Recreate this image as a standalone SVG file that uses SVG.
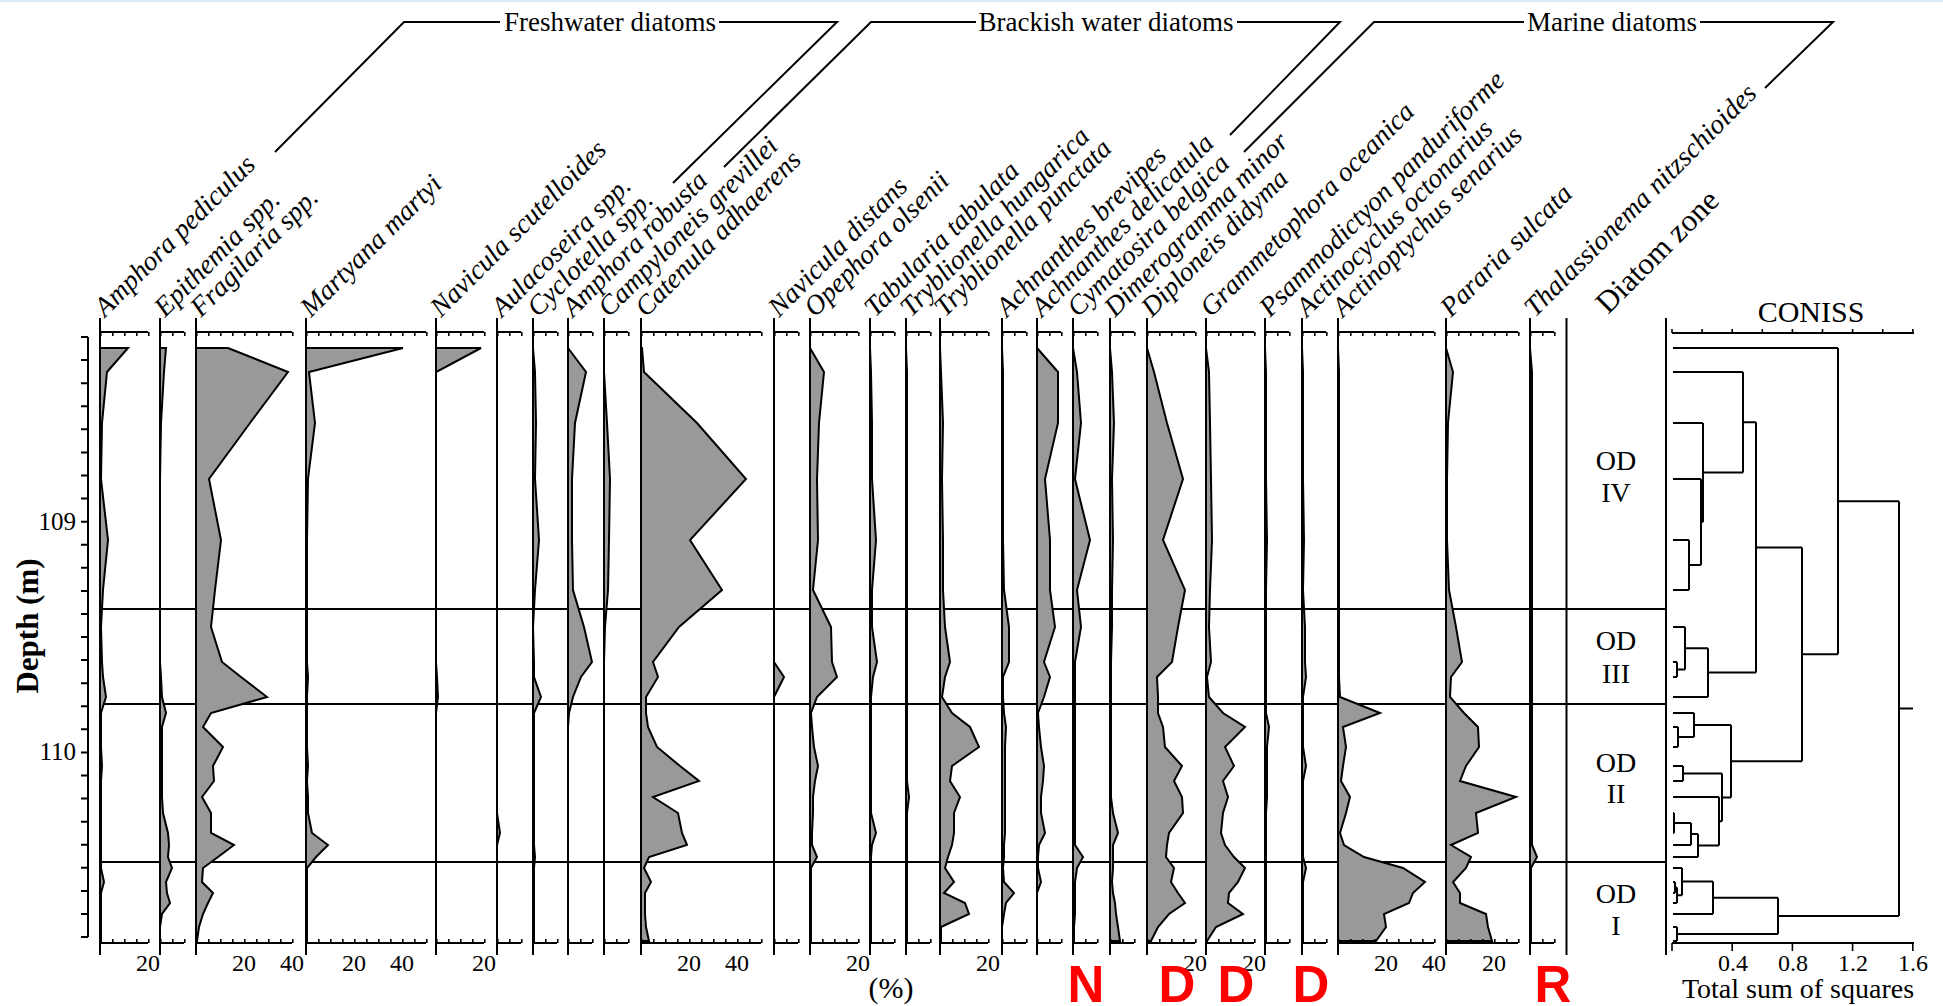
<svg xmlns="http://www.w3.org/2000/svg" width="1943" height="1006" viewBox="0 0 1943 1006">
<style>
.ln{stroke:#000;stroke-width:2;fill:none}
.pf{fill:#999;stroke:#000;stroke-width:2;stroke-linejoin:miter}
.tk{stroke:#000;stroke-width:4;stroke-dasharray:1.6 10.4;fill:none}
.sp{font-family:"Liberation Serif","Times New Roman",serif;font-style:italic;font-size:27.5px;fill:#000}
.hd{font-family:"Liberation Serif","Times New Roman",serif;font-size:27px;fill:#000;text-anchor:middle}
.nm{font-family:"Liberation Serif","Times New Roman",serif;font-size:24px;fill:#000;text-anchor:middle}
.zn{font-family:"Liberation Serif","Times New Roman",serif;font-size:28px;fill:#000;text-anchor:middle}
.red{font-family:"Liberation Sans",Arial,sans-serif;font-weight:bold;font-size:51px;fill:#f00;text-anchor:middle}
</style>
<rect x="0" y="0" width="1943" height="1006" fill="#fff"/>
<rect x="0" y="0" width="1943" height="2" fill="#dcecf6"/>

<g id="headers">
<polyline class="ln" points="275,152 404,22 500,22"/>
<text class="hd" x="610" y="31">Freshwater diatoms</text>
<polyline class="ln" points="719,22 837,22 673,183"/>
<polyline class="ln" points="724,167 871,22 976,22"/>
<text class="hd" x="1106" y="31">Brackish water diatoms</text>
<polyline class="ln" points="1237,22 1340,22 1230,135"/>
<polyline class="ln" points="1244,152 1374,22 1524,22"/>
<text class="hd" x="1612" y="31">Marine diatoms</text>
<polyline class="ln" points="1700,22 1833,22 1765,88"/>
</g>

<g id="labels">
<text class="sp" transform="translate(105,318) rotate(-45)">Amphora pediculus</text>
<text class="sp" transform="translate(165,318) rotate(-45)">Epithemia spp.</text>
<text class="sp" transform="translate(201,318) rotate(-45)">Fragilaria spp.</text>
<text class="sp" transform="translate(311,318) rotate(-45)">Martyana martyi</text>
<text class="sp" transform="translate(441,318) rotate(-45)">Navicula scutelloides</text>
<text class="sp" transform="translate(502,318) rotate(-45)">Aulacoseira spp.</text>
<text class="sp" transform="translate(538,318) rotate(-45)">Cyclotella spp.</text>
<text class="sp" transform="translate(573,318) rotate(-45)">Amphora robusta</text>
<text class="sp" transform="translate(609,318) rotate(-45)">Campyloneis grevillei</text>
<text class="sp" transform="translate(646,318) rotate(-45)">Catenula adhaerens</text>
<text class="sp" transform="translate(779,318) rotate(-45)">Navicula distans</text>
<text class="sp" transform="translate(815,318) rotate(-45)">Opephora olsenii</text>
<text class="sp" transform="translate(875,318) rotate(-45)">Tabularia tabulata</text>
<text class="sp" transform="translate(911,318) rotate(-45)">Tryblionella hungarica</text>
<text class="sp" transform="translate(945,318) rotate(-45)">Tryblionella punctata</text>
<text class="sp" transform="translate(1007,318) rotate(-45)">Achnanthes brevipes</text>
<text class="sp" transform="translate(1042,318) rotate(-45)">Achnanthes delicatula</text>
<text class="sp" transform="translate(1078,318) rotate(-45)">Cymatosira belgica</text>
<text class="sp" transform="translate(1115,318) rotate(-45)">Dimerogramma minor</text>
<text class="sp" transform="translate(1152,318) rotate(-45)">Diploneis didyma</text>
<text class="sp" transform="translate(1211,318) rotate(-45)">Grammetophora oceanica</text>
<text class="sp" transform="translate(1270,318) rotate(-45)">Psammodictyon panduriforme</text>
<text class="sp" transform="translate(1307,318) rotate(-45)">Actinocyclus octonarius</text>
<text class="sp" transform="translate(1343,318) rotate(-45)">Actinoptychus senarius</text>
<text class="sp" transform="translate(1451,318) rotate(-45)">Pararia sulcata</text>
<text class="sp" transform="translate(1535,318) rotate(-45)">Thalassionema nitzschioides</text>
<text transform="translate(1608,315) rotate(-45)" font-family="Liberation Serif, Times New Roman, serif" font-size="31">Diatom zone</text>
<text x="1811" y="322" font-family="Liberation Serif, Times New Roman, serif" font-size="30" text-anchor="middle">CONISS</text>
</g>

<g id="zone-lines">
<path class="ln" d="M100 609H1666M100 704H1666M100 862H1666"/>
</g>

<g id="profiles">
<polygon class="pf" transform="translate(100,0)" points="0,348 28,348 7,372 2,423 1,479 8,540 3,590 1,627 2,662 3,677 6,697 1,713 1,727 1,747 2,766 1,781 1,797 1,813 1,833 1,845 1,857 1,868 4,882 1,893 1,903 1,914 1,927 1,941 0,941"/>
<polygon class="pf" transform="translate(160,0)" points="0,348 6,348 4,372 1,423 0,479 0,540 0,590 0,627 0,662 1,677 2,697 6,713 2,727 2,747 2,766 2,781 2,797 3,813 8,833 9,845 8,857 12,868 6,882 7,893 10,903 2,914 0,927 0,941"/>
<polygon class="pf" transform="translate(196,0)" points="0,348 32,348 92,372 54,423 13,479 25,540 19,590 15,627 26,662 45,677 71,697 15,713 7,727 27,747 17,766 18,781 6,797 15,813 15,833 38,845 22,857 7,868 6,882 17,893 12,903 7,914 3,927 1,941 0,941"/>
<polygon class="pf" transform="translate(306,0)" points="0,348 97,348 3,372 9,423 2,479 1,540 1,590 1,627 1,662 2,677 1,697 1,713 1,727 1,747 2,766 1,781 2,797 2,813 6,833 22,845 10,857 1,868 1,882 1,893 1,903 1,914 1,927 1,941 0,941"/>
<polygon class="pf" transform="translate(436,0)" points="0,348 45,348 0,372 0,662 1,677 2,697 0,713 0,941"/>
<polygon class="pf" transform="translate(497,0)" points="0,348 0,813 3,833 0,845 0,941"/>
<polygon class="pf" transform="translate(533,0)" points="0,348 2,372 3,423 2,479 6,540 2,590 0,627 1,662 1,677 8,697 1,713 1,727 1,747 1,766 1,781 1,797 1,813 1,833 1,845 2,857 1,868 1,882 1,893 1,903 1,914 1,927 1,941 0,941"/>
<polygon class="pf" transform="translate(568,0)" points="0,348 18,372 7,423 4,479 4,540 5,590 16,627 24,662 13,677 5,697 1,713 0,727 0,941"/>
<polygon class="pf" transform="translate(604,0)" points="0,348 0,372 3,423 6,479 5,540 4,590 1,627 0,662 0,941"/>
<polygon class="pf" transform="translate(641,0)" points="0,348 1,348 3,372 56,423 105,479 49,540 81,590 38,627 12,662 17,677 5,697 5,713 7,727 16,747 39,766 58,781 12,797 37,813 41,833 46,845 8,857 3,868 10,882 4,893 4,903 4,914 5,927 8,941 0,941"/>
<polygon class="pf" transform="translate(774,0)" points="0,348 0,662 10,677 0,697 0,941"/>
<polygon class="pf" transform="translate(810,0)" points="0,348 14,372 9,423 7,479 8,540 3,590 21,627 22,662 27,677 7,697 1,713 2,727 4,747 8,766 5,781 3,797 3,813 2,833 2,845 7,857 1,868 1,882 1,893 1,903 1,914 1,927 1,941 0,941"/>
<polygon class="pf" transform="translate(870,0)" points="0,348 1,372 2,423 2,479 6,540 2,590 2,627 7,662 3,677 1,697 1,713 1,727 1,747 1,766 1,781 1,797 1,813 6,833 2,845 1,857 1,868 1,882 1,893 1,903 1,914 1,927 1,941 0,941"/>
<polygon class="pf" transform="translate(906,0)" points="0,348 1,372 1,781 3,797 1,813 1,941 0,941"/>
<polygon class="pf" transform="translate(940,0)" points="0,348 1,372 3,423 2,479 3,540 3,590 5,627 10,662 5,677 2,697 12,713 30,727 39,747 12,766 10,781 20,797 14,813 14,833 12,845 8,857 5,868 14,882 4,893 25,903 29,914 1,927 1,941 0,941"/>
<polygon class="pf" transform="translate(1002,0)" points="0,348 1,372 1,423 1,479 1,540 2,590 7,627 7,662 1,677 1,697 2,713 4,727 3,747 3,766 3,781 3,797 3,813 3,833 2,845 2,857 1,868 2,882 12,893 4,903 2,914 0,927 0,941"/>
<polygon class="pf" transform="translate(1037,0)" points="0,348 21,372 21,423 8,479 13,540 13,590 18,627 7,662 13,677 7,697 1,713 2,727 4,747 7,766 6,781 4,797 4,813 8,833 2,845 1,857 1,868 4,882 0,893 0,941"/>
<polygon class="pf" transform="translate(1073,0)" points="0,348 4,372 8,423 2,479 17,540 4,590 8,627 2,662 2,677 2,697 2,713 2,727 2,747 2,766 2,781 2,797 2,813 2,833 2,845 10,857 4,868 2,882 2,893 2,903 2,914 1,927 1,941 0,941"/>
<polygon class="pf" transform="translate(1110,0)" points="0,348 2,372 4,423 2,479 3,540 2,590 2,627 1,662 1,677 1,697 1,713 1,727 1,747 1,766 1,781 1,797 3,813 8,833 3,845 3,857 3,868 2,882 3,893 5,903 6,914 8,927 10,941 0,941"/>
<polygon class="pf" transform="translate(1147,0)" points="0,348 7,372 20,423 36,479 16,540 38,590 31,627 25,662 10,677 11,697 11,713 16,727 18,747 35,766 27,781 35,797 36,813 22,833 20,845 19,857 27,868 24,882 31,893 38,903 22,914 11,927 4,941 0,941"/>
<polygon class="pf" transform="translate(1206,0)" points="0,348 3,372 4,423 5,479 6,540 4,590 3,627 5,662 1,677 3,697 17,713 39,727 19,747 28,766 17,781 22,797 17,813 15,833 19,845 28,857 39,868 32,882 23,893 22,903 37,914 10,927 1,941 0,941"/>
<polygon class="pf" transform="translate(1265,0)" points="0,348 1,372 1,479 2,540 1,590 1,713 4,727 2,747 2,797 1,813 1,941 0,941"/>
<polygon class="pf" transform="translate(1302,0)" points="0,348 1,372 1,479 2,540 1,590 3,627 3,662 4,677 1,697 1,747 4,766 1,781 1,857 4,868 1,882 1,941 0,941"/>
<polygon class="pf" transform="translate(1338,0)" points="0,348 1,372 1,677 2,697 42,713 5,727 8,747 5,766 3,781 12,797 8,813 2,833 6,845 26,857 65,868 87,882 75,893 71,903 46,914 48,927 38,941 0,941"/>
<polygon class="pf" transform="translate(1446,0)" points="0,348 7,372 2,423 1,479 1,540 3,590 10,627 16,662 5,677 4,697 18,713 32,727 33,747 20,766 14,781 70,797 30,813 32,833 5,845 25,857 20,868 7,882 14,893 14,903 40,914 42,927 46,941 0,941"/>
<polygon class="pf" transform="translate(1530,0)" points="0,348 2,372 2,845 7,857 1,868 1,941 0,941"/>
</g>

<g id="axes">
<path class="ln" d="M100 318V955M100 332H148M100 943H148 M160 318V955M160 332H184M160 943H184 M196 318V955M196 332H292M196 943H292 M306 318V955M306 332H426M306 943H426 M436 318V955M436 332H484M436 943H484 M497 318V955M497 332H521M497 943H521 M533 318V955M533 332H557M533 943H557 M568 318V955M568 332H592M568 943H592 M604 318V955M604 332H628M604 943H628 M641 318V955M641 332H761M641 943H761 M774 318V955M774 332H798M774 943H798 M810 318V955M810 332H858M810 943H858 M870 318V955M870 332H894M870 943H894 M906 318V955M906 332H930M906 943H930 M940 318V955M940 332H988M940 943H988 M1002 318V955M1002 332H1026M1002 943H1026 M1037 318V955M1037 332H1061M1037 943H1061 M1073 318V955M1073 332H1097M1073 943H1097 M1110 318V955M1110 332H1134M1110 943H1134 M1147 318V955M1147 332H1195M1147 943H1195 M1206 318V955M1206 332H1254M1206 943H1254 M1265 318V955M1265 332H1289M1265 943H1289 M1302 318V955M1302 332H1326M1302 943H1326 M1338 318V955M1338 332H1434M1338 943H1434 M1446 318V955M1446 332H1518M1446 943H1518 M1530 318V955M1530 332H1554M1530 943H1554 M1566.5 318V955 M1666 318V955"/>
<line class="tk" x1="100" y1="334" x2="149.6" y2="334"/><line class="tk" x1="100" y1="941" x2="149.6" y2="941"/>
<line class="tk" x1="160" y1="334" x2="185.6" y2="334"/><line class="tk" x1="160" y1="941" x2="185.6" y2="941"/>
<line class="tk" x1="196" y1="334" x2="293.6" y2="334"/><line class="tk" x1="196" y1="941" x2="293.6" y2="941"/>
<line class="tk" x1="306" y1="334" x2="427.6" y2="334"/><line class="tk" x1="306" y1="941" x2="427.6" y2="941"/>
<line class="tk" x1="436" y1="334" x2="485.6" y2="334"/><line class="tk" x1="436" y1="941" x2="485.6" y2="941"/>
<line class="tk" x1="497" y1="334" x2="522.6" y2="334"/><line class="tk" x1="497" y1="941" x2="522.6" y2="941"/>
<line class="tk" x1="533" y1="334" x2="558.6" y2="334"/><line class="tk" x1="533" y1="941" x2="558.6" y2="941"/>
<line class="tk" x1="568" y1="334" x2="593.6" y2="334"/><line class="tk" x1="568" y1="941" x2="593.6" y2="941"/>
<line class="tk" x1="604" y1="334" x2="629.6" y2="334"/><line class="tk" x1="604" y1="941" x2="629.6" y2="941"/>
<line class="tk" x1="641" y1="334" x2="762.6" y2="334"/><line class="tk" x1="641" y1="941" x2="762.6" y2="941"/>
<line class="tk" x1="774" y1="334" x2="799.6" y2="334"/><line class="tk" x1="774" y1="941" x2="799.6" y2="941"/>
<line class="tk" x1="810" y1="334" x2="859.6" y2="334"/><line class="tk" x1="810" y1="941" x2="859.6" y2="941"/>
<line class="tk" x1="870" y1="334" x2="895.6" y2="334"/><line class="tk" x1="870" y1="941" x2="895.6" y2="941"/>
<line class="tk" x1="906" y1="334" x2="931.6" y2="334"/><line class="tk" x1="906" y1="941" x2="931.6" y2="941"/>
<line class="tk" x1="940" y1="334" x2="989.6" y2="334"/><line class="tk" x1="940" y1="941" x2="989.6" y2="941"/>
<line class="tk" x1="1002" y1="334" x2="1027.6" y2="334"/><line class="tk" x1="1002" y1="941" x2="1027.6" y2="941"/>
<line class="tk" x1="1037" y1="334" x2="1062.6" y2="334"/><line class="tk" x1="1037" y1="941" x2="1062.6" y2="941"/>
<line class="tk" x1="1073" y1="334" x2="1098.6" y2="334"/><line class="tk" x1="1073" y1="941" x2="1098.6" y2="941"/>
<line class="tk" x1="1110" y1="334" x2="1135.6" y2="334"/><line class="tk" x1="1110" y1="941" x2="1135.6" y2="941"/>
<line class="tk" x1="1147" y1="334" x2="1196.6" y2="334"/><line class="tk" x1="1147" y1="941" x2="1196.6" y2="941"/>
<line class="tk" x1="1206" y1="334" x2="1255.6" y2="334"/><line class="tk" x1="1206" y1="941" x2="1255.6" y2="941"/>
<line class="tk" x1="1265" y1="334" x2="1290.6" y2="334"/><line class="tk" x1="1265" y1="941" x2="1290.6" y2="941"/>
<line class="tk" x1="1302" y1="334" x2="1327.6" y2="334"/><line class="tk" x1="1302" y1="941" x2="1327.6" y2="941"/>
<line class="tk" x1="1338" y1="334" x2="1435.6" y2="334"/><line class="tk" x1="1338" y1="941" x2="1435.6" y2="941"/>
<line class="tk" x1="1446" y1="334" x2="1519.6" y2="334"/><line class="tk" x1="1446" y1="941" x2="1519.6" y2="941"/>
<line class="tk" x1="1530" y1="334" x2="1555.6" y2="334"/><line class="tk" x1="1530" y1="941" x2="1555.6" y2="941"/>
<text class="nm" x="148" y="971">20</text>
<text class="nm" x="244" y="971">20</text><text class="nm" x="292" y="971">40</text>
<text class="nm" x="354" y="971">20</text><text class="nm" x="402" y="971">40</text>
<text class="nm" x="484" y="971">20</text>
<text class="nm" x="689" y="971">20</text><text class="nm" x="737" y="971">40</text>
<text class="nm" x="858" y="971">20</text>
<text class="nm" x="988" y="971">20</text>
<text class="nm" x="1195" y="971">20</text>
<text class="nm" x="1254" y="971">20</text>
<text class="nm" x="1386" y="971">20</text><text class="nm" x="1434" y="971">40</text>
<text class="nm" x="1494" y="971">20</text>
<text x="891" y="998" font-family="Liberation Serif, Times New Roman, serif" font-size="30" text-anchor="middle">(%)</text>
</g>

<g id="depth-axis">
<path class="ln" d="M88 337V937"/>
<line x1="84.5" y1="336" x2="84.5" y2="939" stroke="#000" stroke-width="7" stroke-dasharray="2 21.08"/>
<text x="76" y="530" font-family="Liberation Serif, Times New Roman, serif" font-size="25" text-anchor="end">109</text>
<text x="76" y="760" font-family="Liberation Serif, Times New Roman, serif" font-size="25" text-anchor="end">110</text>
<text transform="translate(38,626) rotate(-90)" font-family="Liberation Serif, Times New Roman, serif" font-size="31" font-weight="bold" text-anchor="middle">Depth (m)</text>
</g>

<g id="zones">
<text class="zn" x="1616" y="470">OD</text><text class="zn" x="1616" y="502">IV</text>
<text class="zn" x="1616" y="650">OD</text><text class="zn" x="1616" y="683">III</text>
<text class="zn" x="1616" y="772">OD</text><text class="zn" x="1616" y="803">II</text>
<text class="zn" x="1616" y="903">OD</text><text class="zn" x="1616" y="935">I</text>
</g>

<g id="coniss">
<path class="ln" d="M1672 333H1914M1672 943H1914"/>
<line x1="1671.2" y1="331" x2="1915" y2="331" stroke="#000" stroke-width="4" stroke-dasharray="1.6 28.5"/>
<line x1="1671.2" y1="947" x2="1915" y2="947" stroke="#000" stroke-width="8" stroke-dasharray="1.6 58.6"/>
<text class="nm" x="1733" y="971">0.4</text><text class="nm" x="1793" y="971">0.8</text><text class="nm" x="1853" y="971">1.2</text><text class="nm" x="1913" y="971">1.6</text>
<text x="1798" y="998" font-family="Liberation Serif, Times New Roman, serif" font-size="28" text-anchor="middle">Total sum of squares</text>
<path class="ln" d="M1673 348H1838M1673 372H1743M1673 423H1703M1673 479H1701M1673 540H1689M1673 590H1689M1673 627H1685M1673 662H1677M1673 677H1677M1673 697H1708M1673 713H1694M1673 727H1678M1673 747H1678M1673 766H1683M1673 781H1683M1673 797H1719M1673 813H1674M1673 833H1674M1673 845H1691M1673 857H1698M1673 868H1682M1673 882H1675M1673 893H1675M1673 903H1677M1673 914H1713M1673 927H1677M1673 941H1677
M1689 540V590M1689 565H1701 M1701 479V565M1701 522H1703 M1703 423V522M1703 472.5H1743 M1743 372V472.5M1743 422.3H1756
M1677 662V677M1677 669.5H1685 M1685 627V669.5M1685 648.3H1708 M1708 648.3V697M1708 672.6H1756 M1756 422.3V672.6M1756 547.4H1802
M1678 727V747M1678 737H1694 M1694 713V737M1694 725H1731 M1683 766V781M1683 773.5H1722 M1674 813V833M1674 823H1691 M1691 823V845M1691 834H1698 M1698 834V857M1698 845.5H1719 M1719 797V845.5M1719 821.3H1722 M1722 773.5V821.3M1722 797.4H1731 M1731 725V797.4M1731 761.2H1802
M1802 547.4V761.2M1802 654.3H1838 M1838 348V654.3M1838 501.2H1899
M1675 882V893M1675 887.5H1677 M1677 887.5V903M1677 895.3H1682 M1682 868V895.3M1682 881.6H1713 M1713 881.6V914M1713 897.8H1778 M1677 927V941M1677 934H1778 M1778 897.8V934M1778 915.9H1899 M1899 501.2V915.9M1899 708.5H1913"/>
</g>

<g id="markers">
<text class="red" x="1086" y="1002">N</text>
<text class="red" x="1177" y="1002">D</text>
<text class="red" x="1236" y="1002">D</text>
<text class="red" x="1311" y="1002">D</text>
<text class="red" x="1553" y="1002">R</text>
</g>
</svg>
